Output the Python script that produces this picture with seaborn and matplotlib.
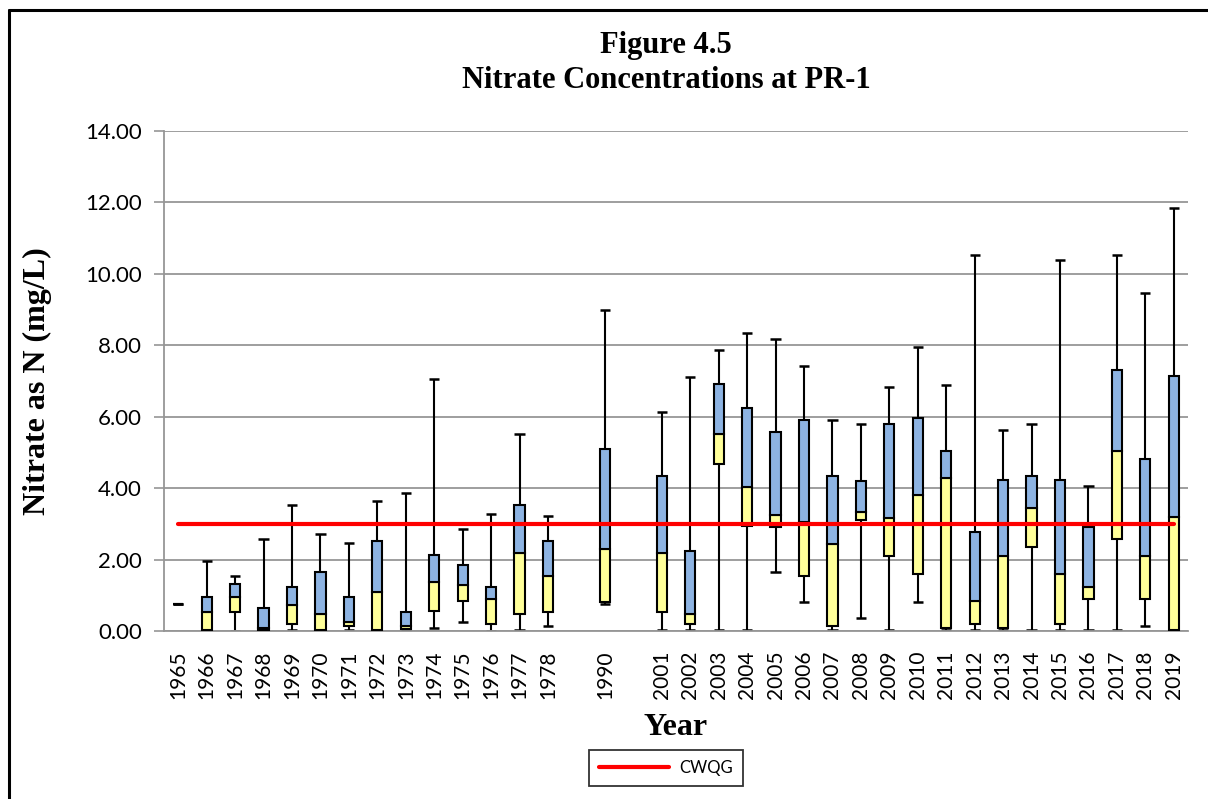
import matplotlib
matplotlib.use("Agg")
import matplotlib.pyplot as plt
import seaborn as sns
import pandas as pd
from matplotlib.lines import Line2D
from matplotlib.ticker import FixedLocator

# ---------------- data ----------------
years = ["1965", "1966", "1967", "1968", "1969", "1970", "1971", "1972", "1973",
         "1974", "1975", "1976", "1977", "1978", "1990",
         "2001", "2002", "2003", "2004", "2005", "2006", "2007", "2008", "2009",
         "2010", "2011", "2012", "2013", "2014", "2015", "2016", "2017", "2018", "2019"]
# category slots shown on the axis (blank slots between the data gaps)
order = years[:14] + [" "] + ["1990"] + ["  "] + years[15:]

mins = [0.75, 0.00, 0.00, 0.00, 0.02, 0.00, 0.04, 0.00, 0.02, 0.08, 0.25, 0.00, 0.03, 0.14,
        0.75,
        0.03, 0.03, 0.03, 0.03, 1.65, 0.80, 0.03, 0.36, 0.03, 0.80, 0.03, 0.03, 0.03, 0.03,
        0.03, 0.03, 0.03, 0.14, 0.03]
q1 = [0.75, 0.03, 0.52, 0.03, 0.21, 0.03, 0.14, 0.03, 0.07, 0.56, 0.84, 0.21, 0.47, 0.52,
      0.80,
      0.52, 0.21, 4.68, 2.95, 2.90, 1.55, 0.14, 3.12, 2.10, 1.59, 0.09, 0.21, 0.09, 2.36,
      0.21, 0.90, 2.57, 0.90, 0.03]
medians = [0.75, 0.52, 0.94, 0.09, 0.73, 0.47, 0.25, 1.10, 0.14, 1.38, 1.28, 0.89, 2.18, 1.55,
           2.30,
           2.18, 0.47, 5.52, 4.03, 3.26, 3.05, 2.45, 3.32, 3.16, 3.80, 4.29, 0.83, 2.09, 3.44,
           1.59, 1.22, 5.04, 2.09, 3.20]
q3 = [0.75, 0.96, 1.33, 0.63, 1.22, 1.65, 0.96, 2.51, 0.52, 2.13, 1.86, 1.22, 3.54, 2.51,
      5.09,
      4.34, 2.24, 6.93, 6.24, 5.58, 5.90, 4.34, 4.19, 5.80, 5.96, 5.04, 2.77, 4.24, 4.34,
      4.24, 2.92, 7.31, 4.83, 7.15]
maxs = [0.75, 1.97, 1.55, 2.57, 3.54, 2.73, 2.46, 3.65, 3.86, 7.05, 2.85, 3.27, 5.52, 3.21,
        8.98,
        6.12, 7.10, 7.86, 8.34, 8.17, 7.42, 5.90, 5.80, 6.83, 7.96, 6.88, 10.54, 5.64, 5.80,
        10.38, 4.07, 10.54, 9.47, 11.84]
cwqg = 3.0
y_ticks = [0, 2, 4, 6, 8, 10, 12, 14]

# ---------------- style ----------------
YELLOW = "#FFFF99"
BLUE = "#8DB3E2"
RED = "#FF0000"
GRID = "#969696"
SANS = ["Lato", "DejaVu Sans"]
SERIF = ["Liberation Serif", "DejaVu Serif"]

sns.set_theme(style="white")
plt.rcParams["font.family"] = SANS
plt.rcParams["text.color"] = "black"
plt.rcParams["axes.labelcolor"] = "black"
plt.rcParams["xtick.labelcolor"] = "black"
plt.rcParams["ytick.labelcolor"] = "black"

df = pd.DataFrame({
    "year": years,
    "low_h": [m - a for m, a in zip(medians, q1)],
    "high_h": [b - m for b, m in zip(q3, medians)],
    "q1": q1,
    "med": medians,
})

fig = plt.figure(figsize=(12.08, 7.99), dpi=100)
ax = fig.add_axes([164 / 1208, 1 - 631 / 799, (1188 - 164) / 1208, (631 - 131) / 799])

pos = [order.index(y) for y in years]
bw = 0.36

# whiskers (behind boxes)
ax.vlines(pos, mins, maxs, color="black", lw=1.5, zorder=2)
ax.hlines(maxs, [p - bw / 2 for p in pos], [p + bw / 2 for p in pos], color="black", lw=1.8, zorder=2)
ax.hlines(mins, [p - bw / 2 for p in pos], [p + bw / 2 for p in pos], color="black", lw=1.8, zorder=2)

# boxes: lower (Q1->median) yellow, upper (median->Q3) blue
sns.barplot(data=df, x="year", y="low_h", order=order, color=YELLOW, saturation=1,
            width=bw, edgecolor="black", linewidth=1.5, errorbar=None, ax=ax, zorder=3,
            bottom=df["q1"].to_numpy())
sns.barplot(data=df, x="year", y="high_h", order=order, color=BLUE, saturation=1,
            width=bw, edgecolor="black", linewidth=1.5, errorbar=None, ax=ax, zorder=3,
            bottom=df["med"].to_numpy())

# guideline
sns.lineplot(x=[pos[0], pos[-1]], y=[cwqg, cwqg], color=RED, lw=3, ax=ax, zorder=4,
             label="CWQG")

# axes
ax.set_xlim(-0.5, len(order) - 0.5)
ax.set_ylim(0, 14)
ax.yaxis.set_major_locator(FixedLocator(y_ticks))
ax.set_yticklabels([f"{v:.2f}" for v in y_ticks])
ax.yaxis.grid(True, color=GRID, lw=1.3)
ax.xaxis.grid(False)
ax.set_axisbelow(True)
for s in ["top", "right"]:
    ax.spines[s].set_visible(False)
for s in ["left", "bottom"]:
    ax.spines[s].set_color(GRID)
    ax.spines[s].set_linewidth(1.3)

ax.set_xticks(range(len(order)))
ax.set_xticklabels([o.strip() for o in order], rotation=90, fontsize=15, family=SANS)
ax.xaxis.set_minor_locator(FixedLocator([i - 0.5 for i in range(len(order) + 1)]))
ax.tick_params(axis="x", which="major", length=0, pad=14)
ax.tick_params(axis="x", which="minor", length=6, width=1.2, color=GRID, direction="out")
ax.tick_params(axis="y", which="major", length=7, width=1.2, color=GRID, direction="out",
               labelsize=16, pad=9, left=True)
for t in ax.get_yticklabels():
    t.set_family(SANS)

ax.set_xlabel("Year", family=SERIF, fontweight="bold", fontsize=23, labelpad=10)
ax.set_ylabel("Nitrate as N (mg/L)", family=SERIF, fontweight="bold", fontsize=23, labelpad=24)

fig.text(666 / 1208, 1 - 46 / 799, "Figure 4.5", ha="center", va="center", family=SERIF,
         fontweight="bold", fontsize=22, color="black")
fig.text(666 / 1208, 1 - 81 / 799, "Nitrate Concentrations at PR-1", ha="center", va="center",
         family=SERIF, fontweight="bold", fontsize=22, color="black")

leg = ax.legend(loc="center", bbox_to_anchor=(666 / 1208, 1 - 768 / 799),
                bbox_transform=fig.transFigure, frameon=True, fancybox=False,
                edgecolor="black", handlelength=4.2, fontsize=12, borderpad=0.6,
                handletextpad=0.6, borderaxespad=0)
leg.get_frame().set_linewidth(1.3)
for t in leg.get_texts():
    t.set_family(SANS)
    t.set_color("black")

# outer chart border (top and left visible)
fig.add_artist(Line2D([9 / 1208, 1.0], [1 - 10 / 799, 1 - 10 / 799], color="black", lw=2.2,
                      transform=fig.transFigure))
fig.add_artist(Line2D([9 / 1208, 9 / 1208], [0.0, 1 - 10 / 799], color="black", lw=2.2,
                      transform=fig.transFigure))

fig.savefig("out.png", dpi=100, facecolor="white")
